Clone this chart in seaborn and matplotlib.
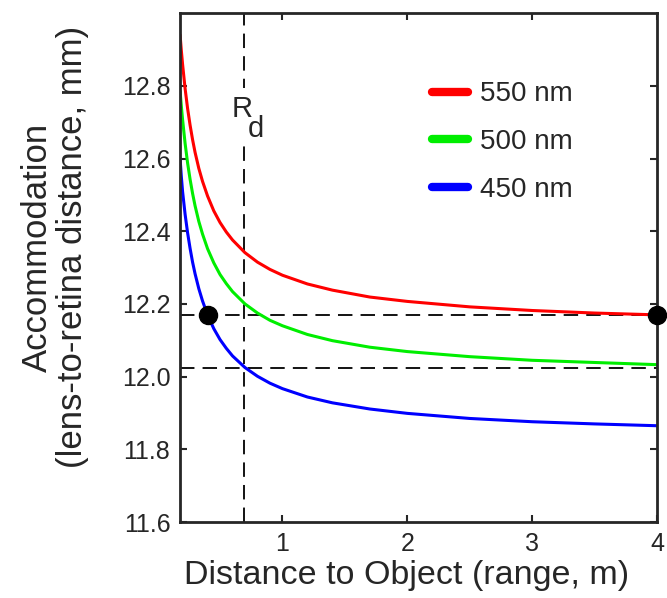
import numpy as np
import pandas as pd
import matplotlib
matplotlib.use("Agg")
import matplotlib.pyplot as plt
from matplotlib.patches import Rectangle
import seaborn as sns

# values
distance_m = [0.18, 0.19, 0.20, 0.22, 0.24, 0.26, 0.28, 0.30, 0.33, 0.36,
              0.40, 0.45, 0.50, 0.55, 0.60, 0.70, 0.80, 0.90, 1.00, 1.20,
              1.40, 1.70, 2.00, 2.50, 3.00, 3.50, 4.00]
accom_550 = [12.940, 12.897, 12.859, 12.793, 12.738, 12.692, 12.652, 12.617,
             12.573, 12.537, 12.497, 12.456, 12.424, 12.398, 12.376, 12.341,
             12.315, 12.295, 12.279, 12.255, 12.238, 12.219, 12.207, 12.192,
             12.182, 12.175, 12.170]
accom_500 = [12.785, 12.744, 12.707, 12.642, 12.588, 12.543, 12.504, 12.470,
             12.427, 12.392, 12.352, 12.313, 12.281, 12.256, 12.234, 12.200,
             12.175, 12.155, 12.140, 12.116, 12.099, 12.081, 12.069, 12.055,
             12.045, 12.039, 12.033]
accom_450 = [12.600, 12.550, 12.509, 12.447, 12.396, 12.353, 12.315, 12.283,
             12.242, 12.208, 12.170, 12.132, 12.102, 12.078, 12.057, 12.025,
             12.001, 11.982, 11.967, 11.944, 11.928, 11.911, 11.899, 11.885,
             11.876, 11.870, 11.865]
wavelengths = ["550 nm", "500 nm", "450 nm"]
colors = ["#ff0000", "#00ee00", "#0000ff"]

rd_distance = 0.69
ref_levels = [12.17, 12.025]
dot_x = [0.40, 4.00]
dot_y = [12.17, 12.17]

df = pd.DataFrame({
    "distance": distance_m * 3,
    "accommodation": accom_550 + accom_500 + accom_450,
    "wavelength": [w for w in wavelengths for _ in distance_m],
})

sns.set_style("ticks")
plt.rcParams["font.family"] = ["Liberation Sans", "DejaVu Sans"]

fig = plt.figure(figsize=(6.67, 5.98), dpi=100)
ax = fig.add_axes([0.270, 0.127, 0.715, 0.851])

sns.lineplot(data=df, x="distance", y="accommodation", hue="wavelength",
             hue_order=wavelengths, palette=colors, linewidth=2.2,
             legend=False, ax=ax)

# reference lines
ax.axvline(rd_distance, color="black", lw=1.3, dashes=(8, 4.5), zorder=1)
for lvl in ref_levels:
    ax.axhline(lvl, color="black", lw=1.3, dashes=(8, 4.5), zorder=1)
ax.plot(dot_x, dot_y, "o", color="black", markersize=13, clip_on=False, zorder=5)

# R_d label, with a white patch cutting the dashed line
ax.add_patch(Rectangle((0.64, 12.64), 0.10, 0.155, facecolor="white",
                       edgecolor="none", zorder=2))
ax.text(0.595, 12.737, "R", fontsize=21, ha="left", va="center", zorder=4)
ax.text(0.725, 12.680, "d", fontsize=21, ha="left", va="center", zorder=4)

# legend
handles = [plt.Line2D([], [], color=c, lw=6) for c in colors]
ax.legend(handles, wavelengths, loc="upper left", bbox_to_anchor=(0.475, 0.915),
          frameon=False, fontsize=20, handlelength=1.3, handletextpad=0.45,
          labelspacing=0.78)

ax.set_xlim(0.18, 4)
ax.set_ylim(11.6, 13.0)
ax.set_xticks([1, 2, 3, 4])
ax.set_yticks([11.6, 11.8, 12.0, 12.2, 12.4, 12.6, 12.8])
ax.set_yticklabels(["11.6", "11.8", "12.0", "12.2", "12.4", "12.6", "12.8"])
ax.tick_params(direction="in", length=5, width=1.5, labelsize=18,
               top=True, right=True, pad=7)
for s in ax.spines.values():
    s.set_linewidth(2)
    s.set_visible(True)

ax.set_xlabel("Distance to Object (range, m)", fontsize=24.5)
ax.set_ylabel("Accommodation\n(lens-to-retina distance, mm)", fontsize=25,
              linespacing=1.1)
ax.xaxis.set_label_coords(0.474, -0.074)
ax.yaxis.set_label_coords(-0.19, 0.54)

fig.savefig("out.png", dpi=100)
